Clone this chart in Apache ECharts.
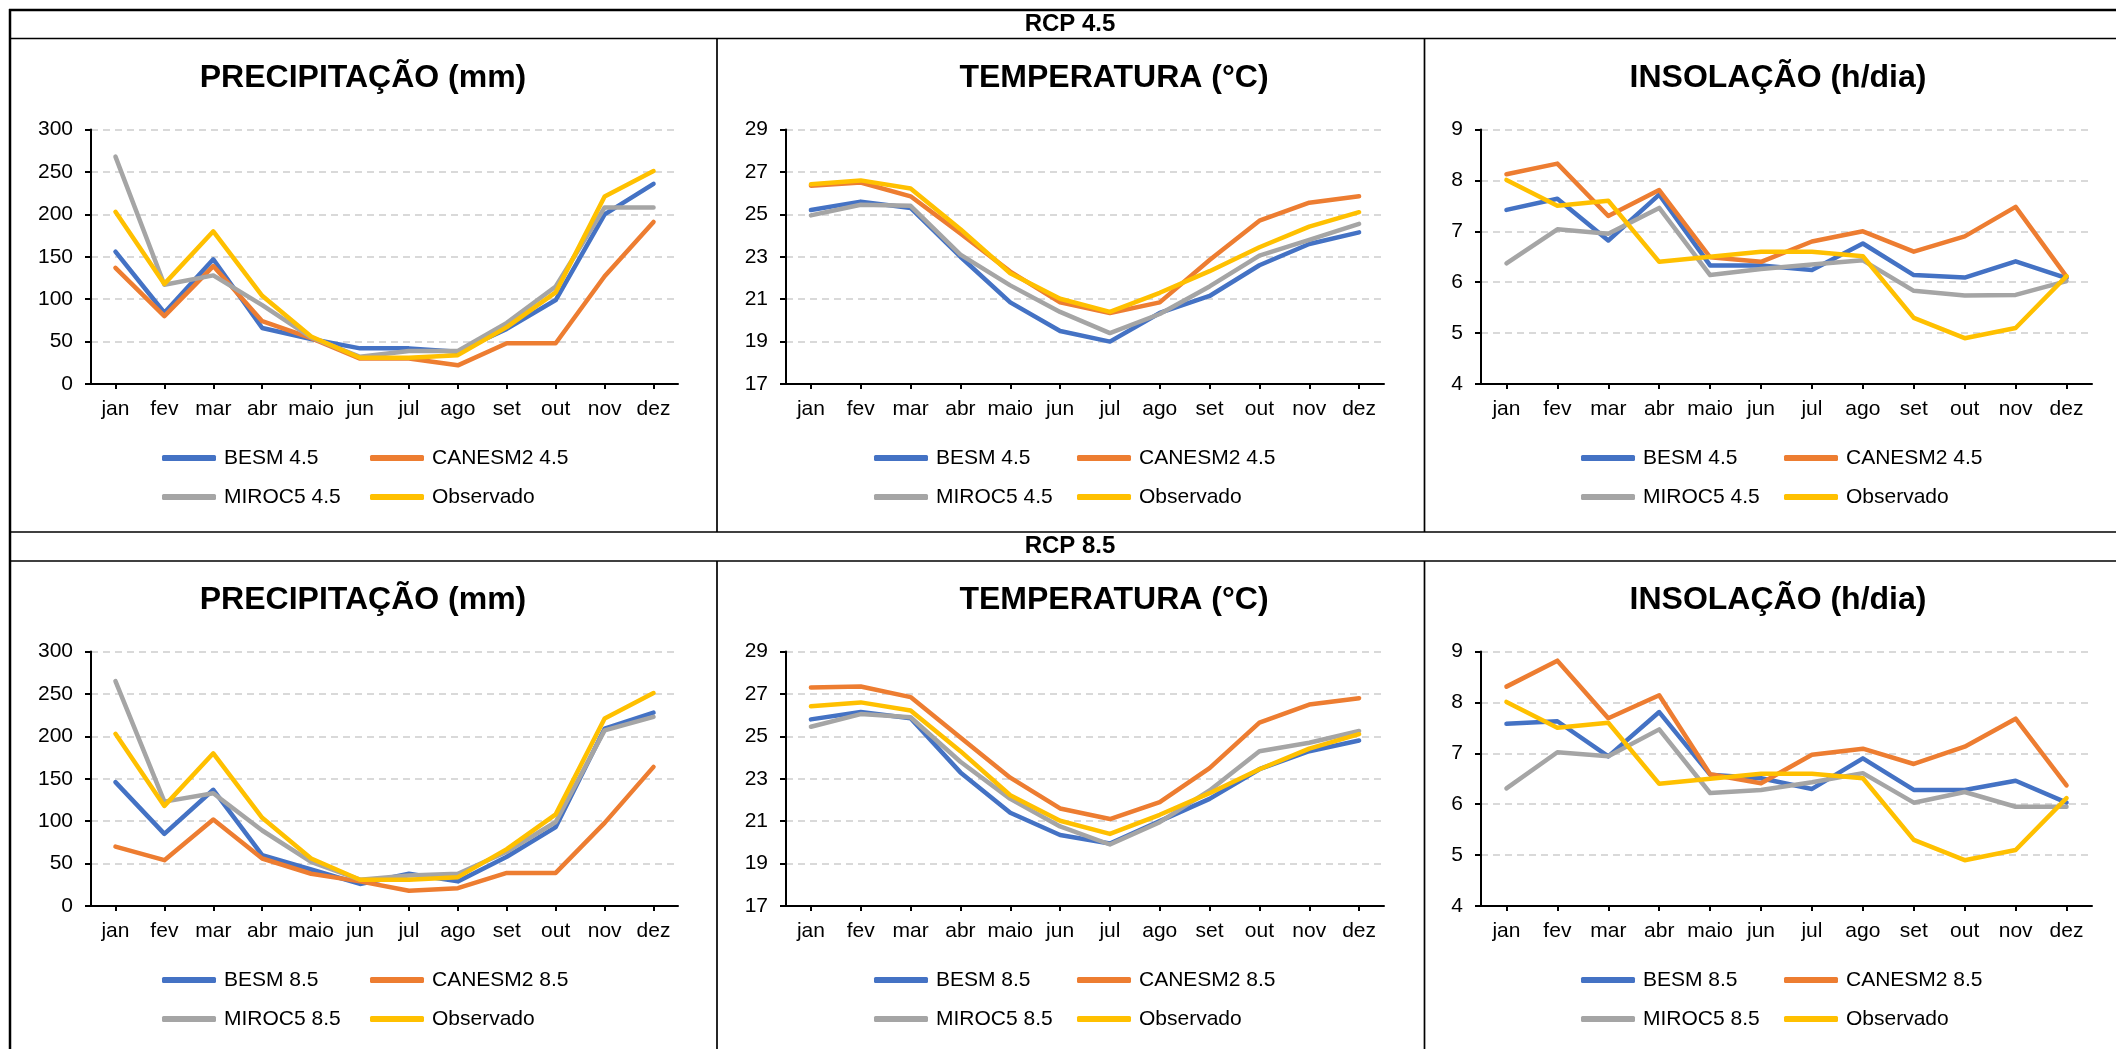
<!DOCTYPE html>
<html>
<head>
<meta charset="utf-8">
<script src="https://cdn.jsdelivr.net/npm/echarts@6/dist/echarts.min.js"></script>
<style>
html,body{margin:0;padding:0;background:#fff;}
#c{width:2116px;height:1049px;}
</style>
</head>
<body>
<div id="c"></div>
<script>
// ---------- DATA ----------
var months = ['jan','fev','mar','abr','maio','jun','jul','ago','set','out','nov','dez'];

var precipTicks = [0, 300, 50];
var tempTicks = [17, 29, 2];
var insolTicks = [4, 9, 1];

var precip45_BESM    = [156, 84, 147, 66, 53, 42, 42, 38, 65, 99, 200, 236];
var precip45_CANESM2 = [137, 80, 139, 74, 54, 30, 30, 22, 48, 48, 127, 191];
var precip45_MIROC5  = [268, 117, 128, 93, 55, 32, 39, 39, 72, 115, 208, 208];
var precip_obs       = [203, 118, 180, 104, 56, 31, 31, 34, 67, 108, 221, 251];

var precip85_BESM    = [146, 85, 137, 60, 43, 26, 38, 29, 58, 93, 209, 228];
var precip85_CANESM2 = [70, 54, 102, 56, 38, 29, 18, 21, 39, 39, 98, 164];
var precip85_MIROC5  = [265, 123, 133, 89, 52, 31, 36, 38, 64, 99, 207, 223];

var temp45_BESM    = [25.2, 25.6, 25.3, 23.0, 20.85, 19.5, 19.0, 20.35, 21.15, 22.6, 23.6, 24.15];
var temp45_CANESM2 = [26.35, 26.5, 25.85, 24.1, 22.3, 20.85, 20.35, 20.85, 22.85, 24.7, 25.55, 25.85];
var temp45_MIROC5  = [24.95, 25.45, 25.4, 23.1, 21.65, 20.4, 19.4, 20.3, 21.6, 23.05, 23.8, 24.55];
var temp_obs       = [26.42, 26.6, 26.22, 24.3, 22.22, 21.02, 20.4, 21.3, 22.32, 23.45, 24.42, 25.1];

var temp85_BESM    = [25.8, 26.15, 25.85, 23.3, 21.4, 20.35, 19.95, 21.0, 22.05, 23.45, 24.3, 24.8];
var temp85_CANESM2 = [27.3, 27.35, 26.85, 24.95, 23.05, 21.6, 21.1, 21.9, 23.5, 25.65, 26.5, 26.8];
var temp85_MIROC5  = [25.45, 26.05, 25.9, 23.8, 22.05, 20.75, 19.9, 20.95, 22.45, 24.3, 24.7, 25.25];

var insol45_BESM    = [7.42, 7.64, 6.82, 7.72, 6.33, 6.33, 6.24, 6.76, 6.14, 6.09, 6.41, 6.08];
var insol45_CANESM2 = [8.12, 8.33, 7.3, 7.81, 6.49, 6.4, 6.8, 7.0, 6.6, 6.9, 7.48, 6.11];
var insol45_MIROC5  = [6.37, 7.04, 6.95, 7.46, 6.14, 6.26, 6.35, 6.43, 5.83, 5.74, 5.75, 6.02];
var insol_obs       = [8.01, 7.5, 7.6, 6.4, 6.5, 6.6, 6.6, 6.51, 5.3, 4.9, 5.1, 6.12];

var insol85_BESM    = [7.58, 7.63, 6.94, 7.81, 6.58, 6.51, 6.3, 6.9, 6.28, 6.28, 6.46, 6.03];
var insol85_CANESM2 = [8.31, 8.82, 7.69, 8.14, 6.59, 6.41, 6.97, 7.09, 6.79, 7.13, 7.68, 6.37];
var insol85_MIROC5  = [6.31, 7.02, 6.94, 7.47, 6.22, 6.28, 6.43, 6.61, 6.03, 6.24, 5.95, 5.95];

var rowHeaders = ['RCP 4.5', 'RCP 8.5'];
var panelTitles = ['PRECIPITAÇÃO (mm)', 'TEMPERATURA (°C)', 'INSOLAÇÃO (h/dia)'];
var modelNames = ['BESM', 'CANESM2', 'MIROC5'];
var obsName = 'Observado';

// ---------- LAYOUT / STYLE ----------
var FONT = "'Liberation Sans', Arial, Helvetica, sans-serif";
var COLORS = ['#4472C4', '#ED7D31', '#A5A5A5', '#FFC000'];
var cols = [
  {gl: 91,   gr: 678,  tx: 363,  l1: 162,  l2: 370},
  {gl: 786,  gr: 1384, tx: 1114, l1: 874,  l2: 1077},
  {gl: 1481, gr: 2092, tx: 1778, l1: 1581, l2: 1784}
];
var rowOff = [0, 522];

var panels = [
  // row 0
  {r:0, c:0, ticks: precipTicks, s:[precip45_BESM, precip45_CANESM2, precip45_MIROC5, precip_obs], sc:'4.5'},
  {r:0, c:1, ticks: tempTicks,   s:[temp45_BESM, temp45_CANESM2, temp45_MIROC5, temp_obs], sc:'4.5'},
  {r:0, c:2, ticks: insolTicks,  s:[insol45_BESM, insol45_CANESM2, insol45_MIROC5, insol_obs], sc:'4.5'},
  // row 1
  {r:1, c:0, ticks: precipTicks, s:[precip85_BESM, precip85_CANESM2, precip85_MIROC5, precip_obs], sc:'8.5'},
  {r:1, c:1, ticks: tempTicks,   s:[temp85_BESM, temp85_CANESM2, temp85_MIROC5, temp_obs], sc:'8.5'},
  {r:1, c:2, ticks: insolTicks,  s:[insol85_BESM, insol85_CANESM2, insol85_MIROC5, insol_obs], sc:'8.5'}
];

var option = {
  animation: false,
  backgroundColor: '#fff',
  textStyle: {fontFamily: FONT},
  title: [], grid: [], xAxis: [], yAxis: [], series: [], legend: [], graphic: []
};

// row headers
rowHeaders.forEach(function (h, i) {
  option.title.push({
    text: h, left: 1070, top: 12.5 + rowOff[i], textAlign: 'center', padding: 0,
    textStyle: {fontFamily: FONT, fontSize: 24, fontWeight: 'bold', color: '#000'}
  });
});

panels.forEach(function (p, idx) {
  var col = cols[p.c], off = rowOff[p.r];
  var top = 129.5 + off, bottom = 384 + off;
  option.title.push({
    text: panelTitles[p.c], left: col.tx, top: 62 + off, textAlign: 'center', padding: 0,
    textStyle: {fontFamily: FONT, fontSize: 32, fontWeight: 'bold', color: '#000'}
  });
  option.grid.push({left: col.gl, top: top, width: col.gr - col.gl, height: bottom - top, containLabel: false});
  option.xAxis.push({
    type: 'category', gridIndex: idx, data: months, boundaryGap: true,
    axisLine: {show: true, lineStyle: {color: '#000', width: 2}},
    axisTick: {show: true, alignWithLabel: true, length: 5, lineStyle: {color: '#000', width: 2}},
    axisLabel: {interval: 0, margin: 15, fontSize: 21, color: '#000', fontFamily: FONT},
    splitLine: {show: false}
  });
  option.yAxis.push({
    type: 'value', gridIndex: idx, min: p.ticks[0], max: p.ticks[1], interval: p.ticks[2],
    axisLine: {show: true, lineStyle: {color: '#000', width: 2}},
    axisTick: {show: true, length: 6, lineStyle: {color: '#000', width: 2}},
    axisLabel: {margin: 18, fontSize: 21, color: '#000', fontFamily: FONT},
    splitLine: {show: true, lineStyle: {color: '#d9d9d9', width: 2, type: [7, 5]}}
  });
  var names = modelNames.map(function (m) { return m + ' ' + p.sc; }).concat([obsName]);
  names.forEach(function (nm, k) {
    option.series.push({
      type: 'line', name: nm, xAxisIndex: idx, yAxisIndex: idx, data: p.s[k],
      symbol: 'none', smooth: false, color: COLORS[k],
      lineStyle: {width: 4.5, color: COLORS[k], cap: 'round', join: 'round'},
      emphasis: {disabled: true}, z: 2 + k
    });
    var lx = (k % 2 === 0) ? col.l1 : col.l2;
    var ly = (k < 2 ? 458 : 497) + off - 10.5;
    option.legend.push({
      data: [{name: nm, icon: 'roundRect', itemStyle: {color: COLORS[k]}}],
      left: lx, top: ly, padding: 0, itemWidth: 54, itemHeight: 6, selectedMode: false,
      textStyle: {fontFamily: FONT, fontSize: 21, color: '#000', padding: [0, 0, 0, 3]}
    });
  });
});

// table borders
function hline(x1, x2, y, w) {
  option.graphic.push({type: 'line', silent: true, shape: {x1: x1, y1: y, x2: x2, y2: y}, style: {stroke: '#000', lineWidth: w}});
}
function vline(x, y1, y2, w) {
  option.graphic.push({type: 'line', silent: true, shape: {x1: x, y1: y1, x2: x, y2: y2}, style: {stroke: '#000', lineWidth: w}});
}
hline(9, 2116, 10, 2.5);
hline(9, 2116, 38.5, 1.7);
hline(9, 2116, 532, 1.7);
hline(9, 2116, 561, 1.7);
vline(10, 9, 1049, 2.5);
vline(717, 38.5, 532, 1.7);
vline(1424.5, 38.5, 532, 1.7);
vline(717, 561, 1049, 1.7);
vline(1424.5, 561, 1049, 1.7);

var chart = echarts.init(document.getElementById('c'), null, {renderer: 'canvas'});
chart.setOption(option);
</script>
</body>
</html>
